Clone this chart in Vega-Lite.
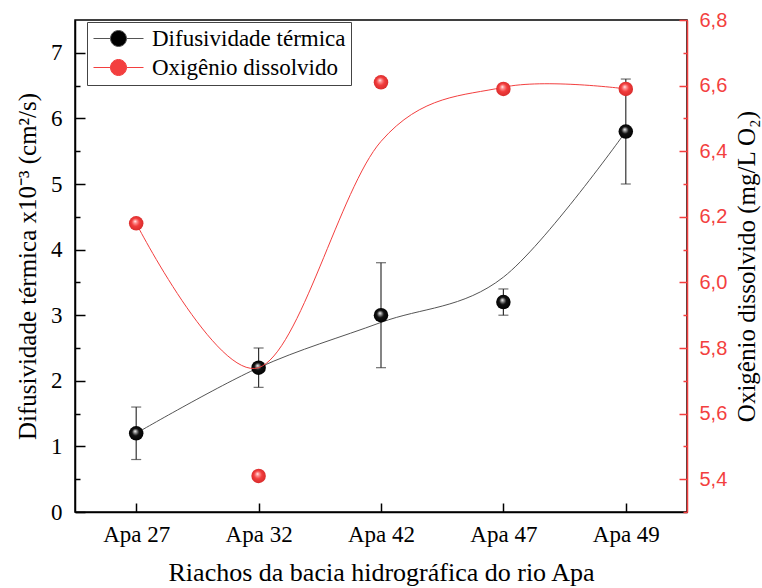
{
  "$schema": "https://vega.github.io/schema/vega-lite/v6.json",
  "width": 612,
  "height": 492,
  "autosize": {"type": "none"},
  "padding": {"left": 75, "top": 20, "right": 75, "bottom": 76},
  "background": "white",
  "config": {
    "view": {"stroke": "black", "strokeWidth": 1.5},
    "axis": {
      "grid": false,
      "labelFont": "Liberation Serif",
      "titleFont": "Liberation Serif",
      "titleFontWeight": "normal",
      "labelColor": "black",
      "titleColor": "black",
      "domainColor": "black",
      "tickColor": "black",
      "domainWidth": 1.5,
      "tickWidth": 1.5
    }
  },
  "data": {
    "values": [
      {"riacho": "Apa 27", "dif": 1.2, "dif_lo": 0.8, "dif_hi": 1.6, "dif_fit": 1.2, "oxi": 6.18, "oxi_fit": 6.18},
      {"riacho": "Apa 32", "dif": 2.2, "dif_lo": 1.9, "dif_hi": 2.5, "dif_fit": 2.2, "oxi": 5.41, "oxi_fit": 5.74},
      {"riacho": "Apa 42", "dif": 3.0, "dif_lo": 2.2, "dif_hi": 3.8, "dif_fit": 2.89, "oxi": 6.61, "oxi_fit": 6.43},
      {"riacho": "Apa 47", "dif": 3.2, "dif_lo": 3.0, "dif_hi": 3.4, "dif_fit": 3.58, "oxi": 6.59, "oxi_fit": 6.595},
      {"riacho": "Apa 49", "dif": 5.8, "dif_lo": 5.0, "dif_hi": 6.6, "dif_fit": 5.8, "oxi": 6.59, "oxi_fit": 6.59}
    ]
  },
  "encoding": {
    "x": {
      "field": "riacho",
      "type": "nominal",
      "sort": null,
      "scale": {"type": "point", "padding": 0.5},
      "axis": {
        "title": "Riachos da bacia hidrográfica do rio Apa",
        "labelAngle": 0,
        "tickSize": -9,
        "labelPadding": 20,
        "labelFontSize": 23,
        "titleFontSize": 26,
        "titlePadding": 13
      }
    }
  },
  "layer": [
    {
      "layer": [
        {
          "mark": {"type": "line", "interpolate": "cardinal", "tension": 0, "strokeWidth": 1},
          "encoding": {
            "y": {
              "field": "dif_fit",
              "type": "quantitative",
              "scale": {"domain": [0, 7.5], "nice": false, "zero": false},
              "axis": {
                "orient": "left",
                "title": "Difusividade térmica x10⁻³ (cm²/s)",
                "values": [0, 1, 2, 3, 4, 5, 6, 7],
                "tickSize": -10,
                "labelPadding": 23,
                "titlePadding": 10,
                "labelFontSize": 23,
                "titleFontSize": 25
              }
            },
            "color": {
              "datum": "Difusividade térmica",
              "type": "nominal",
              "scale": {"domain": ["Difusividade térmica", "Oxigênio dissolvido"], "range": ["#555555", "#f33f3f"]},
              "legend": {
                "title": null,
                "orient": "none",
                "legendX": 12,
                "legendY": 2,
                "strokeColor": "#444444",
                "fillColor": "white",
                "padding": 5,
                "rowPadding": 5,
                "symbolType": "M-2.5,0H-0.8M0.8,0H2.5M0.8,0A0.8,0.8,0,1,1,-0.8,0A0.8,0.8,0,1,1,0.8,0Z",
                "symbolSize": 400,
                "symbolStrokeWidth": 1,
                "symbolOffset": 15,
                "labelOffset": 22,
                "labelLimit": 0,
                "labelFont": "Liberation Serif",
                "labelFontSize": 23,
                "labelColor": "black",
                "encode": {
                  "symbols": {
                    "update": {
                      "fill": [
                        {"test": "datum.value === 'Oxigênio dissolvido'", "value": "#f33f3f"},
                        {"value": "black"}
                      ]
                    }
                  }
                }
              }
            }
          }
        },
        {
          "mark": {"type": "rule", "color": "#333333", "strokeWidth": 1.2},
          "encoding": {
            "y": {
              "field": "dif_lo",
              "type": "quantitative",
              "axis": {
                "orient": "left",
                "title": null,
                "values": [0.5, 1.5, 2.5, 3.5, 4.5, 5.5, 6.5],
                "tickSize": -5,
                "labels": false,
                "domain": false
              }
            },
            "y2": {"field": "dif_hi"}
          }
        },
        {
          "mark": {"type": "tick", "color": "#333333", "size": 10, "thickness": 1.2},
          "encoding": {"y": {"field": "dif_lo", "type": "quantitative", "axis": null}}
        },
        {
          "mark": {"type": "tick", "color": "#333333", "size": 10, "thickness": 1.2},
          "encoding": {"y": {"field": "dif_hi", "type": "quantitative", "axis": null}}
        },
        {
          "mark": {
            "type": "circle",
            "size": 210,
            "opacity": 1,
            "fill": {
              "gradient": "radial",
              "x1": 0.42, "y1": 0.35, "r1": 0,
              "x2": 0.5, "y2": 0.5, "r2": 0.55,
              "stops": [
                {"offset": 0, "color": "#ffffff"},
                {"offset": 0.15, "color": "#aaaaaa"},
                {"offset": 0.45, "color": "#111111"},
                {"offset": 1, "color": "#000000"}
              ]
            }
          },
          "encoding": {"y": {"field": "dif", "type": "quantitative", "axis": null}}
        }
      ],
      "resolve": {"axis": {"y": "independent"}}
    },
    {
      "layer": [
        {
          "mark": {"type": "line", "interpolate": "cardinal", "tension": 0, "strokeWidth": 1},
          "encoding": {
            "y": {
              "field": "oxi_fit",
              "type": "quantitative",
              "scale": {"domain": [5.3, 6.8], "nice": false, "zero": false},
              "axis": {
                "orient": "right",
                "title": "Oxigênio dissolvido (mg/L O₂)",
                "titleAngle": -90,
                "titleBaseline": "top",
                "values": [5.4, 5.6, 5.8, 6.0, 6.2, 6.4, 6.6, 6.8],
                "labelExpr": "replace(format(datum.value, '.1f'), '.', ',')",
                "tickSize": -8,
                "labelPadding": 20,
                "titlePadding": 8,
                "labelFont": "Liberation Sans",
                "labelFontSize": 20,
                "titleFontSize": 25,
                "labelColor": "#f33f3f",
                "domainColor": "#f33f3f",
                "tickColor": "#f33f3f"
              }
            },
            "color": {"datum": "Oxigênio dissolvido", "type": "nominal"}
          }
        },
        {
          "mark": {
            "type": "circle",
            "size": 210,
            "opacity": 1,
            "fill": {
              "gradient": "radial",
              "x1": 0.42, "y1": 0.35, "r1": 0,
              "x2": 0.5, "y2": 0.5, "r2": 0.55,
              "stops": [
                {"offset": 0, "color": "#ffffff"},
                {"offset": 0.18, "color": "#ff9a9a"},
                {"offset": 0.5, "color": "#f23c3c"},
                {"offset": 1, "color": "#d42a2a"}
              ]
            }
          },
          "encoding": {
            "y": {
              "field": "oxi",
              "type": "quantitative",
              "axis": {
                "orient": "right",
                "title": null,
                "values": [5.3, 5.5, 5.7, 5.9, 6.1, 6.3, 6.5, 6.7],
                "tickSize": -4,
                "labels": false,
                "domain": false,
                "tickColor": "#f33f3f"
              }
            }
          }
        }
      ],
      "resolve": {"axis": {"y": "independent"}}
    }
  ],
  "resolve": {"scale": {"y": "independent"}}
}
